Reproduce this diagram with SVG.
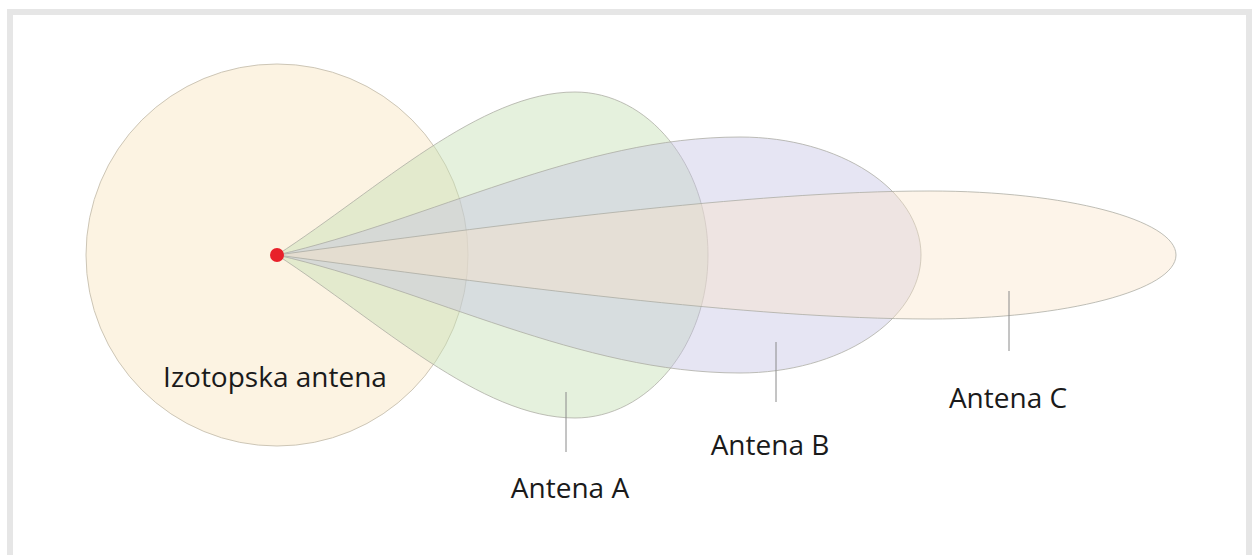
<svg xmlns="http://www.w3.org/2000/svg" width="1253" height="555" viewBox="0 0 1253 555">
<style>
.lbl{font-family:"Open Sans","Noto Sans","Liberation Sans",sans-serif;font-size:28px;fill:#1a1a1a;text-anchor:middle}
.lobe{stroke:#a9a9a0;stroke-width:1;stroke-opacity:0.75}
.lead{stroke:#8a8a8a;stroke-width:1;fill:none}
</style>
<rect x="0" y="0" width="1253" height="555" fill="#ffffff"/>
<rect id="frame" x="10" y="12" width="1239" height="560" fill="#ffffff" stroke="#e6e6e6" stroke-width="6"/>
<g id="izotopska">
<circle cx="277" cy="255" r="191" fill="#fcf3e2" stroke="#cdc6b6" stroke-width="1"/>
</g>
<g id="antena-a">
<path class="lobe" fill="#c6e0b4" fill-opacity="0.45" d="M277,255 C380,188 480,92 575,92 C648,92 708,165 708,255 C708,345 648,418 575,418 C480,418 380,322 277,255 Z"/>
</g>
<g id="antena-b">
<path class="lobe" fill="#c4c0e2" fill-opacity="0.42" d="M277,255 C430,220 580,137 740,137 C840,137 921,190 921,255 C921,320 840,373 740,373 C580,373 430,290 277,255 Z"/>
</g>
<g id="antena-c">
<path class="lobe" fill="#fae3c8" fill-opacity="0.4" d="M277,255 C500,225 750,191 930,191 C1066,191 1176,220 1176,255 C1176,290 1066,319 930,319 C750,319 500,285 277,255 Z"/>
</g>
<g id="source">
<circle cx="277" cy="255" r="7" fill="#e8202a"/>
</g>
<g id="connectors">
<line class="lead" x1="566" y1="392" x2="566" y2="452"/>
<line class="lead" x1="776" y1="342" x2="776" y2="402"/>
<line class="lead" x1="1009" y1="291" x2="1009" y2="351"/>
</g>
<g id="labels">
<text class="lbl" x="275" y="387">Izotopska antena</text>
<text class="lbl" x="570" y="498">Antena A</text>
<text class="lbl" x="770" y="455">Antena B</text>
<text class="lbl" x="1008" y="408">Antena C</text>
</g>
</svg>
